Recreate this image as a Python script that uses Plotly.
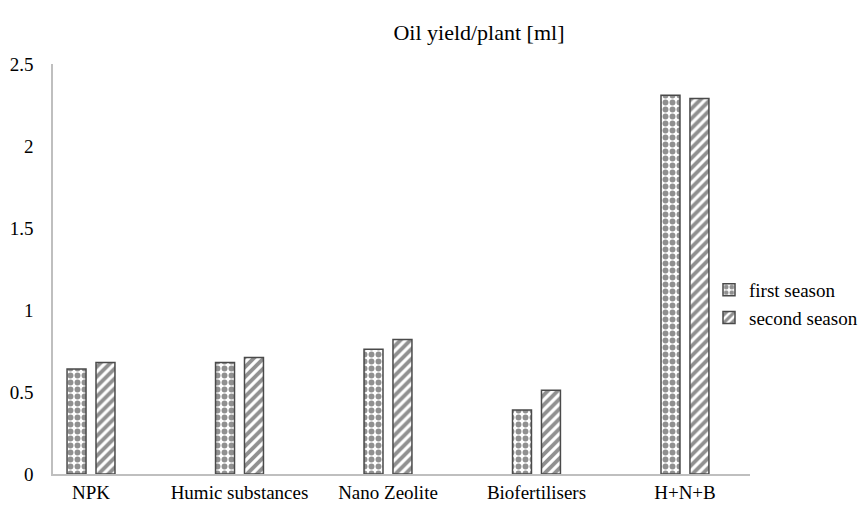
import plotly.graph_objects as go

categories = ["NPK", "Humic substances", "Nano Zeolite", "Biofertilisers", "H+N+B"]
first_season = [0.64, 0.68, 0.76, 0.39, 2.31]
second_season = [0.68, 0.71, 0.82, 0.51, 2.29]
y_ticks = [0, 0.5, 1, 1.5, 2, 2.5]
y_tick_labels = ["0", "0.5", "1", "1.5", "2", "2.5"]

positions = list(range(len(categories)))
edge = "#4a4a4a"
ink = "#222222"
font_family = "Liberation Serif, Times New Roman, serif"

fig = go.Figure()
fig.add_trace(go.Bar(
    x=positions, y=first_season, name="first season",
    marker=dict(
        color="white",
        line=dict(color=edge, width=1.5),
        pattern=dict(shape=".", fgcolor=ink, bgcolor="white", size=7, solidity=0.55),
    ),
))
fig.add_trace(go.Bar(
    x=positions, y=second_season, name="second season",
    marker=dict(
        color="white",
        line=dict(color=edge, width=1.5),
        pattern=dict(shape="/", fgcolor=ink, bgcolor="white", size=7, solidity=0.55),
    ),
))

fig.update_layout(
    width=863, height=505,
    margin=dict(l=53, r=113, t=64, b=31, autoexpand=False),
    paper_bgcolor="white", plot_bgcolor="white",
    font=dict(family=font_family, size=19, color="black"),
    barmode="group", bargap=0.61, bargroupgap=0.345,
    title=dict(text="Oil yield/plant [ml]", x=0.555, xref="container", xanchor="center",
               y=1 - 32 / 505, yref="container", yanchor="middle",
               font=dict(family=font_family, size=22, color="black")),
    legend=dict(x=709 / 863, xref="container", xanchor="left",
                y=1 - 271 / 505, yref="container", yanchor="top",
                font=dict(family=font_family, size=19, color="black"),
                bgcolor="rgba(0,0,0,0)", itemwidth=30),
    showlegend=True,
)
fig.update_xaxes(
    range=[-0.256, 4.438], tickmode="array", tickvals=positions, ticktext=categories,
    showline=True, linecolor="#bfbfbf", linewidth=1.5, showgrid=False, zeroline=False,
    ticks="", tickfont=dict(size=19), fixedrange=True, automargin=False,
)
fig.update_yaxes(
    range=[0, 2.5], tickmode="array", tickvals=y_ticks, ticktext=y_tick_labels,
    showline=True, linecolor="#bfbfbf", linewidth=1.5, showgrid=False, zeroline=False,
    ticks="", ticklabelstandoff=14, tickfont=dict(size=19), fixedrange=True, automargin=False,
)

fig.write_html("out.html")
